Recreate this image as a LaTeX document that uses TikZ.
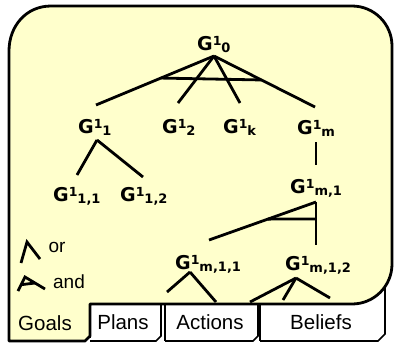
\documentclass[tikz,border=0pt]{standalone}
\usepackage{fontspec}
\setmainfont{Liberation Sans}
\newfontfamily\gfont{DejaVu Sans}
\usetikzlibrary{calc}
\definecolor{cardyellow}{HTML}{FFFFCC}
% goal label: G with raised 1 and lowered index
\newcommand\glab[1]{{\gfont\bfseries\fontsize{19}{19}\selectfont G\raisebox{5pt}{\fontsize{12.5}{12}\selectfont 1}\raisebox{-2.5pt}{\fontsize{13}{13}\selectfont #1}}}
\tikzset{
  glabel/.style={anchor=base west, inner sep=0pt},
  tabtext/.style={inner sep=0pt, font=\fontsize{20.5}{20}\selectfont},
  legtext/.style={inner sep=0pt, font=\fontsize{19}{19}\selectfont},
  treeline/.style={line width=2.8pt},
  border/.style={line width=2.8pt, line join=round},
  tabedge/.style={line width=1.6pt, line join=miter},
}
\begin{document}
\begin{tikzpicture}[x=1pt, y=-1pt]
\useasboundingbox (0,0) rectangle (395,343);

% cards behind the goals card
\fill[white] (90,300) rectangle (161,341);
\fill[white] (165,300) rectangle (258,341);
\fill[white] (260,270) rectangle (385,341);
\draw[tabedge] (90,341) -- (156,341) -- (161,336) -- (161,304);
\draw[tabedge] (165,341) -- (253,341) -- (258,336) -- (258,304);
\draw[tabedge] (260,341) -- (378,341) -- (385,334) -- (385,280);
\draw[border] (90,304) -- (90,338);
\draw[border] (165,304) -- (165,341);
\draw[border] (260,304) -- (260,341);

% goals card
\draw[border, fill=cardyellow]
  (9,341) -- (9,51) .. controls (9,26.1) and (26.1,6) .. (51,6)
  -- (352,6) .. controls (374.1,6) and (392,23.9) .. (392,46)
  -- (392,264) .. controls (392,286.1) and (374.1,304) .. (352,304)
  -- (90,304) -- (90,336) -- (85,341) -- cycle;

% goal labels
\node[glabel] (g0)   at (197,50)  {\glab{0}};
\node[glabel] (g1)   at (78,133)  {\glab{1}};
\node[glabel] (g2)   at (162,133) {\glab{2}};
\node[glabel] (gk)   at (223,133) {\glab{k}};
\node[glabel] (gm)   at (297,134) {\glab{m}};
\node[glabel] (g11)  at (53,201)  {\glab{1,1}};
\node[glabel] (g12)  at (120,201) {\glab{1,2}};
\node[glabel] (gm1)  at (290,193) {\glab{m,1}};
\node[glabel] (gm11) at (175,269) {\glab{m,1,1}};
\node[glabel] (gm12) at (285,270) {\glab{m,1,2}};

% tree end points
\coordinate (a0)  at (214,56);
\coordinate (e1)  at (96,105);
\coordinate (e2)  at (178,103);
\coordinate (ek)  at (240,103);
\coordinate (em)  at (315,107);
\coordinate (a1)  at (97,140);
\coordinate (e11) at (77,175);
\coordinate (e12) at (143,177);
\coordinate (am)  at (316,142);
\coordinate (em1) at (316,165);
\coordinate (am1) at (316,202);
\coordinate (em11) at (209,240);
\coordinate (em12) at (316,245);
\coordinate (a111) at (190,272);
\coordinate (f1) at (167,292);
\coordinate (f2) at (216,302);
\coordinate (a112) at (296,278);
\coordinate (h1) at (250,302);
\coordinate (h2) at (283,300);
\coordinate (h3) at (330,298);

% decomposition lines
\draw[treeline] (a0) -- (e1);
\draw[treeline] (a0) -- (e2);
\draw[treeline] (a0) -- (ek);
\draw[treeline] (a0) -- (em);
\draw[treeline] ($(a0)!0.45!(e1)$) -- ($(a0)!0.47!(em)$);
\draw[treeline] (a1) -- (e11);
\draw[treeline] (a1) -- (e12);
\draw[treeline] (am) -- (em1);
\draw[treeline] (am1) -- (em11);
\draw[treeline] (am1) -- (em12);
\draw[treeline] ($(am1)!0.45!(em11)$) -- (316,219);
\draw[treeline] (a111) -- (f1);
\draw[treeline] (a111) -- (f2);
\draw[treeline] (a112) -- (h1);
\draw[treeline] (a112) -- (h2);
\draw[treeline] (a112) -- (h3);

% legend
\coordinate (or1) at (21,263);
\coordinate (or2) at (27,242);
\coordinate (or3) at (40,259);
\draw[treeline, line join=miter] (or1) -- (or2) -- (or3);
\node[legtext] (ortext) at (57,247) {or};
\coordinate (and1) at (18,291);
\coordinate (and2) at (25,277);
\coordinate (and3) at (45,289);
\draw[treeline, line join=miter] (and1) -- (and2) -- (and3);
\draw[treeline] ($(and2)!0.55!(and1)$) -- ($(and2)!0.5!(and3)$);
\node[legtext] (andtext) at (69,282) {and};

% card titles
\node[tabtext] (goals)   at (45,323)  {Goals};
\node[tabtext] (plans)   at (123,322) {Plans};
\node[tabtext] (actions) at (210,322) {Actions};
\node[tabtext] (beliefs) at (321,322) {Beliefs};
\end{tikzpicture}
\end{document}
